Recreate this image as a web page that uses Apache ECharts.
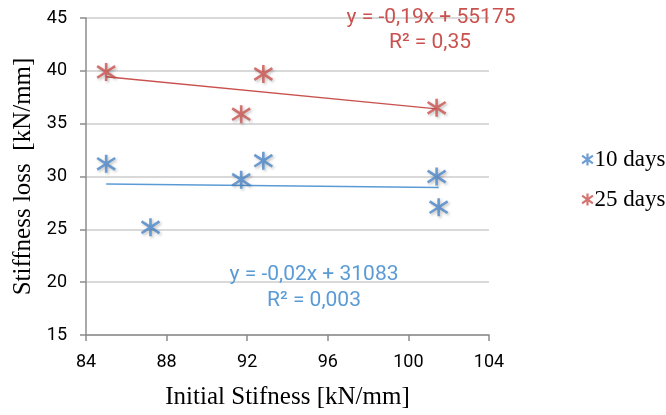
<!DOCTYPE html>
<html><head><meta charset="utf-8">
<script src="https://cdn.jsdelivr.net/npm/echarts@6/dist/echarts.min.js"></script>
<style>html,body{margin:0;padding:0;background:#fff}#c{width:666px;height:415px}</style>
</head><body><div id="c"></div>
<script>
var xTicks = [84, 88, 92, 96, 100, 104];
var yTicks = [15, 20, 25, 30, 35, 40, 45];
var days10 = [[85.0, 31.2], [87.2, 25.2], [91.7, 29.7], [92.8, 31.5], [101.4, 30.0], [101.5, 27.1]];
var days25 = [[85.0, 39.9], [91.7, 35.9], [92.8, 39.7], [101.4, 36.5]];
var trend10 = [[85.0, 29.3], [101.5, 28.95]];
var trend25 = [[85.0, 39.45], [101.4, 36.4]];
var seriesNames = ['10 days', '25 days'];
var eq10 = ['y = -0,02x + 31083', 'R² = 0,003'];
var eq25 = ['y = -0,19x + 55175', 'R² = 0,35'];

var BLUE = '#4A86C8', RED = '#C9524F', BLUE_T = '#5B9BD5';
var STAR = 'path://M10,0L10,20M1,3.5L19,16.5M1,16.5L19,3.5';
var chart = echarts.init(document.getElementById('c'), null, {renderer: 'canvas'});
var eqFont = '21px Roboto';
function starSeries(name, data, color) {
  return {
    name: name, type: 'scatter', data: data, symbol: STAR, symbolSize: [18, 18],
    itemStyle: {color: color, borderColor: color, borderWidth: 2.6,
      shadowBlur: 3, shadowColor: 'rgba(0,0,0,0.3)', shadowOffsetX: 1.5, shadowOffsetY: 1.5},
    z: 3
  };
}
function trendSeries(data, color) {
  return {type: 'line', data: data, showSymbol: false, symbol: 'none',
    lineStyle: {color: color, width: 1.5}, silent: true, z: 2};
}
function eqText(txt, x, y, color) {
  return {type: 'text', x: x, y: y, z: 10,
    style: {text: txt, align: 'center', verticalAlign: 'middle', fill: color, font: eqFont}};
}
chart.setOption({
  animation: false,
  grid: {left: 86, right: 177, top: 18, bottom: 79},
  xAxis: {
    type: 'value', min: xTicks[0], max: xTicks[xTicks.length - 1], interval: 4,
    name: 'Initial Stifness [kN/mm]', nameLocation: 'middle', nameGap: 50,
    nameTextStyle: {fontFamily: 'Liberation Serif', fontSize: 25, color: '#000'},
    axisLine: {lineStyle: {color: '#8c8c8c', width: 1.5}},
    axisTick: {show: true, length: 6, lineStyle: {color: '#8c8c8c', width: 1.5}},
    axisLabel: {margin: 18, fontFamily: 'Roboto', fontSize: 18, color: '#000'},
    splitLine: {show: false}
  },
  yAxis: {
    type: 'value', min: yTicks[0], max: yTicks[yTicks.length - 1], interval: 5,
    name: 'Stiffness loss  [kN/mm]', nameLocation: 'middle', nameGap: 50,
    nameTextStyle: {fontFamily: 'Liberation Serif', fontSize: 25, color: '#000'},
    axisLine: {show: true, lineStyle: {color: '#8c8c8c', width: 1.5}},
    axisTick: {show: true, length: 6, lineStyle: {color: '#8c8c8c', width: 1.5}},
    axisLabel: {margin: 19, fontFamily: 'Roboto', fontSize: 18, color: '#000'},
    splitLine: {show: true, lineStyle: {color: '#d9d9d9', width: 2}}
  },
  legend: {
    orient: 'vertical', left: 576, top: 143, itemGap: 17,
    itemWidth: 12, itemHeight: 12,
    data: [{name: seriesNames[0], icon: STAR}, {name: seriesNames[1], icon: STAR}],
    itemStyle: {borderWidth: 2.2},
    textStyle: {fontFamily: 'Liberation Serif', fontSize: 23, color: '#000', padding: [0, 0, 0, -4]}
  },
  graphic: [
    eqText(eq25[0], 431, 18, RED),
    eqText(eq25[1], 430, 43, RED),
    eqText(eq10[0], 314, 275, BLUE_T),
    eqText(eq10[1], 314, 301, BLUE_T)
  ],
  series: [
    starSeries(seriesNames[0], days10, BLUE),
    starSeries(seriesNames[1], days25, RED),
    trendSeries(trend10, BLUE_T),
    trendSeries(trend25, RED)
  ]
});
</script></body></html>
